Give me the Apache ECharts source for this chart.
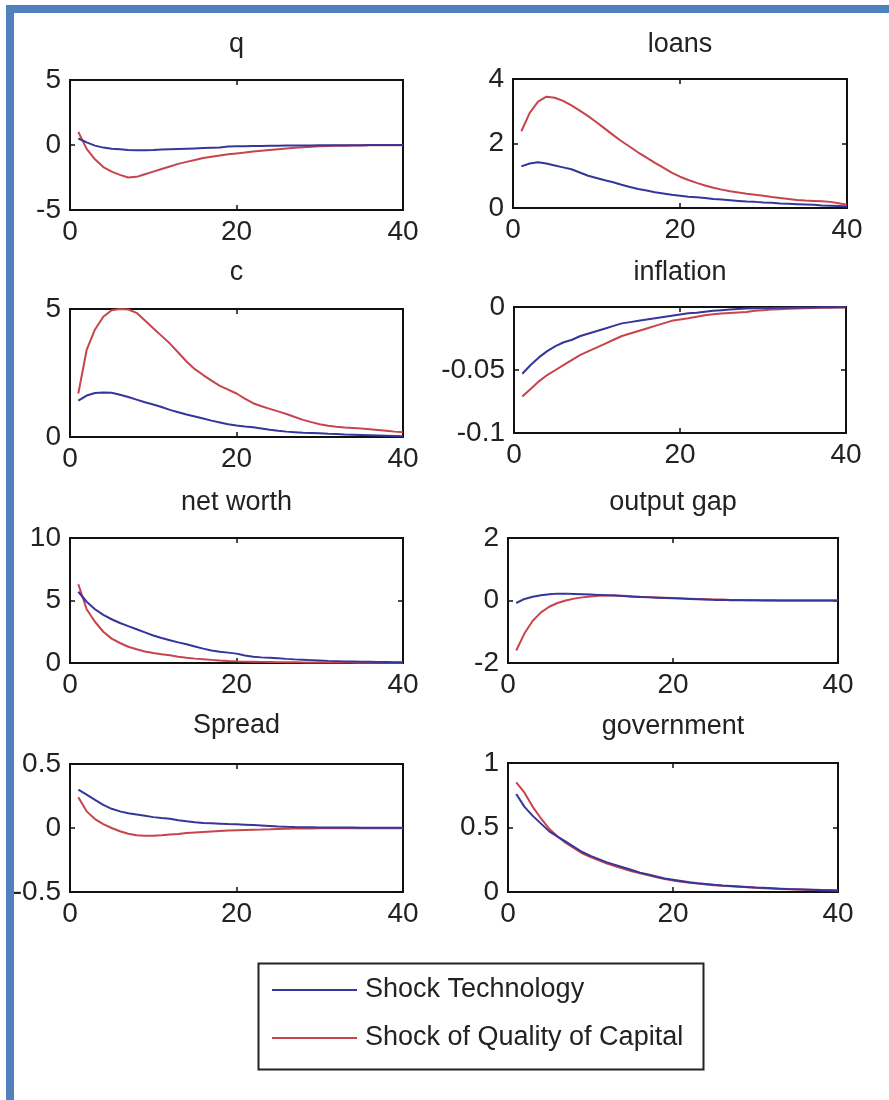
<!DOCTYPE html>
<html>
<head>
<meta charset="utf-8">
<title>Impulse responses</title>
<script src="https://cdn.jsdelivr.net/npm/echarts@6/dist/echarts.min.js"></script>
<style>
  html, body { margin: 0; padding: 0; background: #fff; }
  #chart { width: 889px; height: 1100px; }
</style>
</head>
<body>
<div id="chart"></div>
<script>
// periods after the shock
const periods = [1, 2, 3, 4, 5, 6, 7, 8, 9, 10, 11, 12, 13, 14, 15, 16, 17, 18, 19, 20,
  21, 22, 23, 24, 25, 26, 27, 28, 29, 30, 31, 32, 33, 34, 35, 36, 37, 38, 39, 40];

const seriesNames = ['Shock Technology', 'Shock of Quality of Capital'];

// q
const qTech = [0.5, 0.2, -0.05, -0.2, -0.28, -0.33, -0.38, -0.4, -0.4, -0.38, -0.35, -0.32, -0.3, -0.28, -0.26, -0.24, -0.22, -0.2, -0.12, -0.1,
  -0.09, -0.08, -0.07, -0.06, -0.05, -0.04, -0.04, -0.03, -0.03, -0.02, -0.02, -0.01, -0.01, -0.01, -0.01, 0, 0, 0, 0, 0];
const qCapital = [1.0, -0.3, -1.1, -1.7, -2.05, -2.3, -2.5, -2.45, -2.25, -2.05, -1.85, -1.65, -1.45, -1.3, -1.15, -1.0, -0.9, -0.8, -0.72, -0.65,
  -0.58, -0.5, -0.44, -0.38, -0.32, -0.27, -0.22, -0.17, -0.13, -0.1, -0.08, -0.06, -0.05, -0.04, -0.03, -0.02, -0.02, -0.01, -0.01, -0.01];

// loans
const loansTech = [1.29, 1.38, 1.42, 1.38, 1.32, 1.26, 1.2, 1.1, 1.0, 0.93, 0.86, 0.8, 0.72, 0.65, 0.59, 0.54, 0.49, 0.45, 0.41, 0.38,
  0.35, 0.33, 0.31, 0.28, 0.26, 0.24, 0.22, 0.2, 0.19, 0.17, 0.16, 0.14, 0.13, 0.12, 0.11, 0.1, 0.08, 0.07, 0.06, 0.05];
const loansCapital = [2.38, 2.95, 3.3, 3.45, 3.42, 3.32, 3.18, 3.02, 2.85, 2.66, 2.46, 2.26, 2.07, 1.9, 1.72, 1.56, 1.4, 1.25, 1.1, 0.97,
  0.87, 0.78, 0.7, 0.63, 0.57, 0.52, 0.48, 0.44, 0.41, 0.38, 0.34, 0.31, 0.28, 0.25, 0.23, 0.22, 0.21, 0.19, 0.15, 0.1];

// c
const cTech = [1.42, 1.62, 1.72, 1.74, 1.73, 1.65, 1.56, 1.46, 1.36, 1.27, 1.17, 1.06, 0.97, 0.88, 0.8, 0.72, 0.64, 0.57, 0.5, 0.45,
  0.41, 0.38, 0.33, 0.28, 0.24, 0.21, 0.19, 0.17, 0.16, 0.15, 0.13, 0.12, 0.1, 0.09, 0.08, 0.07, 0.06, 0.05, 0.04, 0.03];
const cCapital = [1.7, 3.4, 4.2, 4.7, 4.95, 5.0, 4.98, 4.85, 4.55, 4.25, 3.95, 3.65, 3.3, 2.95, 2.65, 2.42, 2.2, 2.0, 1.85, 1.7,
  1.5, 1.32, 1.2, 1.1, 1.0, 0.9, 0.78, 0.67, 0.58, 0.5, 0.44, 0.4, 0.37, 0.35, 0.33, 0.3, 0.27, 0.24, 0.21, 0.19];

// inflation
const inflationTech = [-0.053, -0.046, -0.04, -0.035, -0.031, -0.028, -0.026, -0.023, -0.021, -0.019, -0.017, -0.015, -0.013, -0.012, -0.011, -0.01, -0.009, -0.008, -0.007, -0.006,
  -0.005, -0.0045, -0.0037, -0.003, -0.0025, -0.002, -0.0015, -0.0012, -0.001, -0.0008, -0.0007, -0.0006, -0.0005, -0.0004, -0.0003, -0.0003, -0.0002, -0.0002, -0.0001, -0.0001];
const inflationCapital = [-0.071, -0.065, -0.059, -0.054, -0.05, -0.046, -0.042, -0.038, -0.035, -0.032, -0.029, -0.026, -0.023, -0.021, -0.019, -0.017, -0.015, -0.013, -0.011, -0.01,
  -0.009, -0.0078, -0.0065, -0.0058, -0.0052, -0.0048, -0.0044, -0.004, -0.003, -0.0025, -0.002, -0.0017, -0.0014, -0.0012, -0.001, -0.0008, -0.0006, -0.0005, -0.0004, -0.0003];

// net worth
const netWorthTech = [5.7, 4.9, 4.3, 3.85, 3.5, 3.2, 2.95, 2.7, 2.45, 2.2, 2.0, 1.82, 1.65, 1.5, 1.32, 1.15, 1.0, 0.9, 0.83, 0.75,
  0.6, 0.5, 0.45, 0.42, 0.38, 0.33, 0.29, 0.26, 0.23, 0.2, 0.17, 0.15, 0.13, 0.12, 0.11, 0.1, 0.09, 0.08, 0.07, 0.07];
const netWorthCapital = [6.3, 4.3, 3.3, 2.5, 1.95, 1.6, 1.3, 1.1, 0.92, 0.8, 0.7, 0.62, 0.5, 0.42, 0.35, 0.3, 0.25, 0.2, 0.16, 0.13,
  0.11, 0.1, 0.09, 0.08, 0.07, 0.06, 0.06, 0.05, 0.05, 0.05, 0.04, 0.04, 0.04, 0.03, 0.03, 0.03, 0.03, 0.02, 0.02, 0.02];

// output gap
const outputGapTech = [-0.08, 0.05, 0.12, 0.17, 0.2, 0.22, 0.22, 0.21, 0.2, 0.19, 0.18, 0.17, 0.16, 0.14, 0.12, 0.11, 0.1, 0.09, 0.08, 0.07,
  0.06, 0.05, 0.04, 0.03, 0.02, 0.02, 0.01, 0.01, 0.01, 0.01, 0, 0, 0, 0, 0, 0, 0, 0, 0, 0];
const outputGapCapital = [-1.6, -1.05, -0.65, -0.38, -0.2, -0.08, 0.0, 0.06, 0.1, 0.13, 0.15, 0.16, 0.16, 0.15, 0.14, 0.12, 0.11, 0.1, 0.09, 0.08,
  0.07, 0.06, 0.05, 0.04, 0.03, 0.03, 0.02, 0.02, 0.01, 0.01, 0.01, 0.01, 0, 0, 0, 0, 0, 0, 0, 0];

// Spread
const spreadTech = [0.3, 0.26, 0.22, 0.18, 0.15, 0.13, 0.115, 0.105, 0.095, 0.085, 0.078, 0.072, 0.06, 0.052, 0.045, 0.04, 0.037, 0.034, 0.031, 0.029,
  0.026, 0.023, 0.02, 0.016, 0.012, 0.009, 0.007, 0.006, 0.005, 0.004, 0.004, 0.003, 0.003, 0.003, 0.002, 0.002, 0.002, 0.002, 0.001, 0.001];
const spreadCapital = [0.24, 0.13, 0.07, 0.03, 0.0, -0.025, -0.045, -0.057, -0.061, -0.06, -0.056, -0.051, -0.046, -0.04, -0.035, -0.031, -0.027, -0.023, -0.02, -0.017,
  -0.015, -0.013, -0.012, -0.01, -0.007, -0.005, -0.004, -0.003, -0.003, -0.002, -0.002, -0.002, -0.001, -0.001, -0.001, -0.001, -0.001, -0.001, -0.001, -0.001];

// government
const governmentTech = [0.76, 0.66, 0.59, 0.53, 0.47, 0.43, 0.39, 0.35, 0.31, 0.28, 0.255, 0.23, 0.21, 0.19, 0.17, 0.15, 0.135, 0.12, 0.105, 0.095,
  0.085, 0.075, 0.068, 0.062, 0.056, 0.051, 0.047, 0.043, 0.039, 0.035, 0.032, 0.029, 0.026, 0.023, 0.021, 0.019, 0.017, 0.015, 0.014, 0.012];
const governmentCapital = [0.85, 0.77, 0.66, 0.57, 0.49, 0.43, 0.38, 0.34, 0.3, 0.27, 0.245, 0.22, 0.2, 0.18, 0.16, 0.145, 0.13, 0.115, 0.1, 0.09,
  0.08, 0.072, 0.065, 0.059, 0.053, 0.048, 0.044, 0.04, 0.036, 0.033, 0.03, 0.027, 0.024, 0.022, 0.02, 0.018, 0.016, 0.014, 0.013, 0.012];

// panel titles and y-axis ranges
const titles = ['q', 'loans', 'c', 'inflation', 'net worth', 'output gap', 'Spread', 'government'];
const yMins = [-5, 0, 0, -0.1, 0, -2, -0.5, 0];
const yMaxs = [5, 4, 5, 0, 10, 2, 0.5, 1];
const ySteps = [5, 2, 5, 0.05, 5, 2, 0.5, 0.5];
const techData = [qTech, loansTech, cTech, inflationTech, netWorthTech, outputGapTech, spreadTech, governmentTech];
const capitalData = [qCapital, loansCapital, cCapital, inflationCapital, netWorthCapital, outputGapCapital, spreadCapital, governmentCapital];

// plot boxes [left, top, width, height] and title tops
const boxes = [
  [70, 80, 333, 130], [513, 79, 334, 129],
  [70, 309, 333, 128], [514, 307, 332, 126],
  [70, 538, 333, 125], [508, 538, 330, 125],
  [70, 764, 333, 128], [508, 763, 330, 129]
];
const titleTops = [31, 31, 259, 259, 489, 489, 712, 713];

const FONT = '"Liberation Sans", Arial, sans-serif';
const INK = '#222';
const BLUE = '#35359a';
const RED = '#c8444c';

const chart = echarts.init(document.getElementById('chart'), null, { renderer: 'canvas' });

const grids = boxes.map(b => ({
  left: b[0], top: b[1], width: b[2], height: b[3],
  show: true, borderColor: '#111', borderWidth: 2, backgroundColor: 'transparent'
}));

// MATLAB style: box around each axes, short ticks pointing inward on all four sides
const tick = { show: true, inside: true, length: 5, lineStyle: { color: '#111', width: 1.5 } };
const noLine = { show: false, onZero: false };
const label = { color: INK, fontFamily: FONT, fontSize: 28 };

const xBottom = boxes.map((b, i) => ({
  gridIndex: i, type: 'value', position: 'bottom', min: 0, max: 40, interval: 20,
  axisLine: noLine, axisTick: tick, splitLine: { show: false },
  axisLabel: Object.assign({ margin: 8 }, label)
}));
const xTop = boxes.map((b, i) => ({
  gridIndex: i, type: 'value', position: 'top', min: 0, max: 40, interval: 20,
  axisLine: noLine, axisTick: tick, splitLine: { show: false }, axisLabel: { show: false }
}));
const yLeft = boxes.map((b, i) => ({
  gridIndex: i, type: 'value', position: 'left', min: yMins[i], max: yMaxs[i], interval: ySteps[i],
  axisLine: noLine, axisTick: tick, splitLine: { show: false },
  axisLabel: Object.assign({ margin: 9 }, label)
}));
const yRight = boxes.map((b, i) => ({
  gridIndex: i, type: 'value', position: 'right', min: yMins[i], max: yMaxs[i], interval: ySteps[i],
  axisLine: noLine, axisTick: tick, splitLine: { show: false }, axisLabel: { show: false }
}));

const series = [];
boxes.forEach((b, i) => {
  [techData[i], capitalData[i]].forEach((vals, s) => {
    series.push({
      type: 'line',
      name: seriesNames[s],
      xAxisIndex: i,
      yAxisIndex: i,
      data: periods.map((p, k) => [p, vals[k]]),
      showSymbol: false,
      symbol: 'none',
      clip: false,
      lineStyle: { width: 2, color: s === 0 ? BLUE : RED },
      itemStyle: { color: s === 0 ? BLUE : RED },
      z: s === 0 ? 3 : 2
    });
  });
});

const option = {
  animation: false,
  backgroundColor: '#fff',
  title: titles.map((t, i) => ({
    text: t,
    left: boxes[i][0] + boxes[i][2] / 2,
    top: titleTops[i],
    textAlign: 'center',
    padding: 0,
    textStyle: { color: INK, fontFamily: FONT, fontSize: 27, fontWeight: 'normal' }
  })),
  grid: grids,
  xAxis: xBottom.concat(xTop),
  yAxis: yLeft.concat(yRight),
  legend: {
    data: seriesNames,
    orient: 'vertical',
    left: 272,
    top: 975,
    padding: 0,
    itemGap: 18,
    itemWidth: 85,
    itemHeight: 2,
    icon: 'rect',
    selectedMode: false,
    textStyle: { color: INK, fontFamily: FONT, fontSize: 27, lineHeight: 30, padding: [0, 0, 0, 3] }
  },
  graphic: [
    // blue page frame (left and top edges)
    { type: 'rect', left: 6, top: 5, shape: { width: 8, height: 1095 }, style: { fill: '#4f81bd' }, silent: true },
    { type: 'rect', left: 6, top: 5, shape: { width: 883, height: 8 }, style: { fill: '#4f81bd' }, silent: true },
    // legend box
    { type: 'rect', left: 256, top: 961, shape: { width: 445, height: 106 }, style: { fill: 'none', stroke: '#222', lineWidth: 2 }, silent: true }
  ],
  series: series
};

chart.setOption(option);
</script>
</body>
</html>
